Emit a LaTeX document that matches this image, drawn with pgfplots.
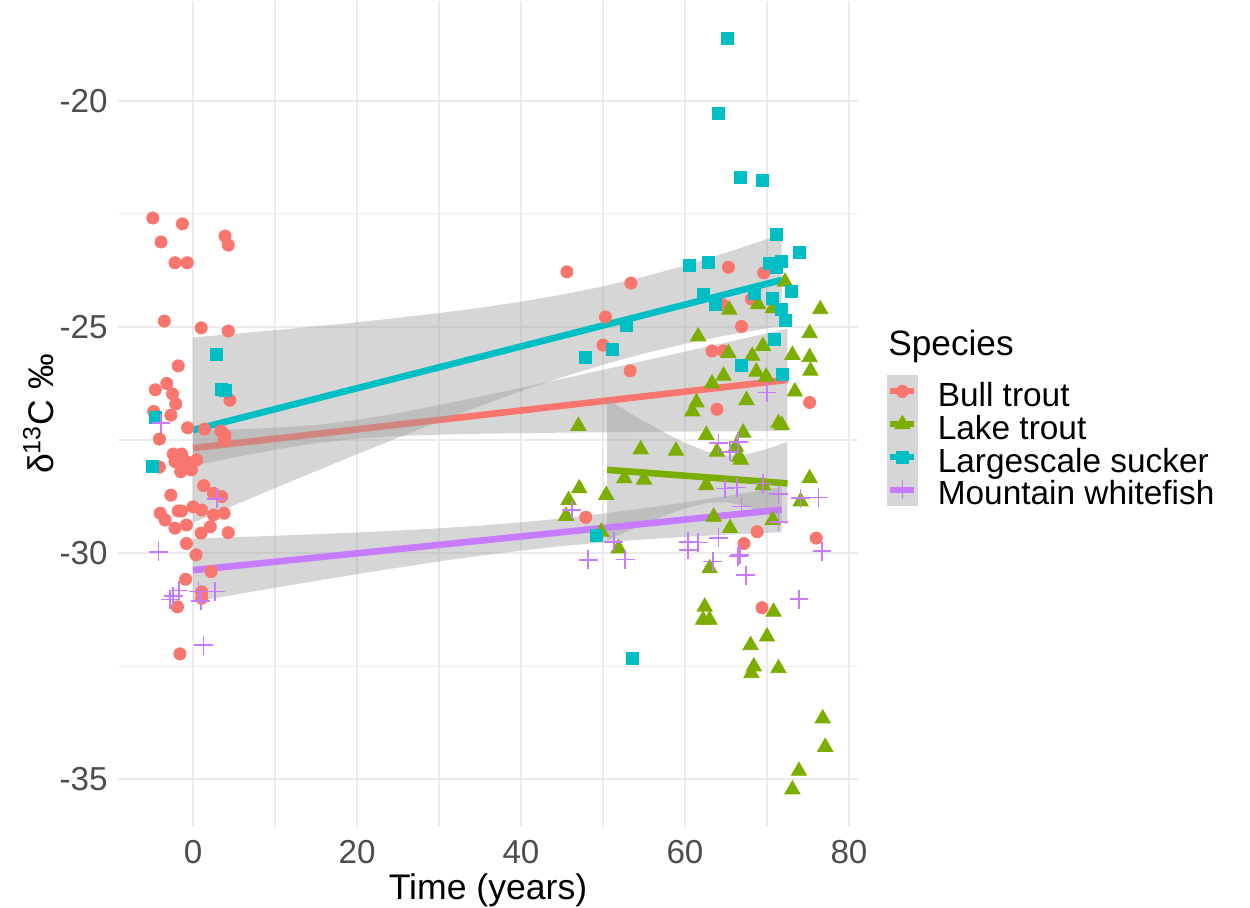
\documentclass[border=0pt]{standalone}
\usepackage{pgfplots}
\usepackage{pgfplotstable}
\pgfplotsset{compat=1.18}
\usepackage{fontspec}
\setmainfont{Liberation Sans}

\definecolor{bullc}{HTML}{F8766D}
\definecolor{lakec}{HTML}{7CAE00}
\definecolor{suckc}{HTML}{00BFC4}
\definecolor{whitc}{HTML}{C77CFF}
\definecolor{gridc}{HTML}{EBEBEB}
\definecolor{tickc}{HTML}{4D4D4D}
\definecolor{keybg}{HTML}{D6D6D6}

% stable isotope samples per species: time (years) and d13C
\pgfplotstableread{
t d13C
-4.9 -22.59
-1.3 -22.72
-3.9 -23.12
3.9 -22.99
4.3 -23.19
-2.2 -23.58
-0.7 -23.58
-3.5 -24.87
1.0 -25.02
4.3 -25.09
-1.8 -25.86
-3.2 -26.25
-4.6 -26.39
-2.5 -26.48
-2.1 -26.70
4.5 -26.62
-4.8 -26.87
-2.7 -26.95
-0.65 -27.23
-4.1 -27.48
-2.4 -27.81
-1.4 -27.81
-2.2 -27.98
-0.8 -27.98
0.45 -27.94
-4.1 -28.10
-1.5 -28.20
-0.2 -28.16
1.3 -28.51
-2.7 -28.72
2.5 -28.68
3.5 -28.75
0.0 -28.98
1.06 -29.05
-4.0 -29.12
-3.4 -29.27
-1.8 -29.07
-1.4 -29.07
2.5 -29.16
3.8 -29.12
-2.2 -29.45
-0.8 -29.38
0.98 -29.56
2.1 -29.42
4.3 -29.55
-0.8 -29.79
0.37 -30.04
2.2 -30.41
-0.9 -30.58
1.06 -30.86
1.06 -31.00
-1.9 -31.19
-1.6 -32.23
1.4 -27.26
3.9 -27.39
3.4 -27.30
3.8 -27.50
45.6 -23.78
53.4 -24.03
50.3 -24.78
50.0 -25.40
53.3 -25.97
47.9 -29.21
65.3 -23.68
69.6 -23.80
64.6 -24.51
68.1 -24.38
66.9 -24.99
63.3 -25.53
64.7 -25.53
63.9 -26.82
75.2 -26.67
68.8 -29.53
67.2 -29.79
76.0 -29.67
69.4 -31.21
}\bulltrout

\pgfplotstableread{
t d13C
72.2 -24.00
76.5 -24.61
65.4 -24.62
68.9 -24.50
70.7 -24.59
75.2 -25.14
61.6 -25.21
69.5 -25.42
65.3 -25.58
68.2 -25.64
73.1 -25.62
75.2 -25.67
75.3 -25.97
68.7 -25.99
64.7 -26.08
69.9 -26.10
63.3 -26.25
73.4 -26.43
67.5 -26.62
61.4 -26.67
60.9 -26.87
71.4 -27.13
71.8 -27.17
62.6 -27.39
67.1 -27.34
54.6 -27.71
58.9 -27.74
63.9 -27.76
66.2 -27.65
66.6 -27.87
66.8 -27.94
52.6 -28.35
55.0 -28.38
62.6 -28.50
69.5 -28.50
75.2 -28.35
50.4 -28.72
74.1 -28.86
63.5 -29.20
70.7 -29.27
65.5 -29.45
51.9 -29.90
63.0 -30.34
62.4 -31.19
62.2 -31.48
63.0 -31.48
70.8 -31.30
70.0 -31.85
68.0 -32.04
68.4 -32.51
68.1 -32.66
71.4 -32.55
76.8 -33.66
77.1 -34.29
73.9 -34.82
73.1 -35.23
47.0 -27.19
47.1 -28.57
45.8 -28.83
45.5 -29.18
49.8 -29.53
}\laketrout

\pgfplotstableread{
t d13C
-4.6 -27.01
-4.9 -28.08
2.8 -25.61
3.5 -26.38
4.0 -26.40
65.2 -18.61
64.1 -20.27
66.8 -21.70
69.5 -21.75
71.2 -22.96
73.9 -23.36
60.5 -23.63
62.8 -23.58
70.3 -23.59
71.8 -23.55
71.1 -23.68
73.0 -24.22
62.2 -24.27
68.5 -24.25
63.7 -24.49
70.6 -24.37
71.8 -24.61
72.3 -24.85
52.9 -24.96
51.1 -25.49
70.9 -25.27
66.9 -25.86
71.9 -26.05
47.8 -25.68
49.2 -29.62
53.6 -32.32
}\sucker

\pgfplotstableread{
t d13C
-4.2 -29.97
-1.7 -30.83
-2.4 -30.95
-2.8 -31.03
0.65 -30.85
2.7 -30.85
0.94 -31.06
1.26 -32.04
-3.9 -27.13
2.9 -28.80
64.1 -27.57
65.5 -27.76
66.5 -27.54
64.9 -28.57
66.3 -28.55
69.5 -28.46
71.4 -28.70
74.1 -28.79
76.3 -28.77
66.9 -28.97
71.4 -29.31
51.3 -29.75
52.7 -30.14
60.4 -29.75
61.6 -29.77
60.4 -29.93
64.1 -29.66
63.4 -30.19
66.7 -30.04
66.5 -30.07
67.4 -30.49
76.7 -29.96
73.9 -31.02
48.2 -30.15
46.2 -29.05
70.0 -26.45
}\whitefish

\pgfplotsset{
  keyimg/.style 2 args={legend image code/.code={
      \fill[keybg] (0pt,-4.5pt) rectangle (15pt,11.5pt);
      \draw[#1, line width=3pt] (1.5pt,3.5pt) -- (13.5pt,3.5pt);
      \draw[#1, #2] plot coordinates {(7.5pt,3.5pt)};
  }},
  band/.style={draw=none, fill=black!40, fill opacity=0.4, forget plot},
  fit/.style={line width=3.3pt, forget plot},
}

\begin{document}
\begin{tikzpicture}
\useasboundingbox (0,0) rectangle (625pt,453.5pt);
\begin{axis}[
  at={(59pt,40pt)}, anchor=south west,
  scale only axis, width=370pt, height=413pt,
  xmin=-9.15, xmax=81.1, ymin=-36.06, ymax=-17.79,
  axis line style={draw=none},
  tick style={draw=none},
  xtick={0,20,40,60,80}, xticklabels={0,20,40,60,80},
  minor xtick={10,30,50,70},
  ytick={-35,-30,-25,-20}, yticklabels={-35,-30,-25,-20},
  minor ytick={-32.5,-27.5,-22.5},
  grid=both,
  major grid style={draw=gridc, line width=1pt},
  minor grid style={draw=gridc, line width=0.55pt},
  ticklabel style={font=\fontsize{16.6pt}{16.6pt}\selectfont, text=tickc, inner sep=0pt},
  xticklabel style={anchor=north, yshift=-6.5pt},
  yticklabel style={anchor=east, xshift=-5pt},
  xlabel={Time (years)},
  xlabel style={at={(axis description cs:0.5,-0.0872)}, anchor=base, inner sep=0pt,
    font=\fontsize{17.8pt}{17.8pt}\selectfont},
  ylabel={δ\textsuperscript{13}C ‰},
  ylabel style={at={(axis description cs:-0.0878,0.5)}, anchor=base, inner sep=0pt,
    font=\fontsize{17.8pt}{17.8pt}\selectfont},
  legend style={at={(axis description cs:1.0392,0.5472)}, anchor=north west,
    draw=none, fill=none, inner sep=0pt, outer sep=0pt,
    row sep=0pt, column sep=10pt,
    font=\fontsize{16.7pt}{16.7pt}\selectfont,
    nodes={inner sep=0pt, outer sep=0pt, text height=8pt, text depth=0pt}},
  legend cell align=left,
]
% samples
\addplot[only marks, bullc, mark=*, mark size=3.05pt, forget plot] table[x=t,y=d13C] {\bulltrout};
\addplot[only marks, lakec, mark=triangle*, mark size=4.4pt, forget plot] table[x=t,y=d13C] {\laketrout};
\addplot[only marks, suckc, mark=square*, mark size=3.0pt, forget plot] table[x=t,y=d13C] {\sucker};
\addplot[only marks, whitc, mark=+, mark size=4.7pt, line width=0.85pt, forget plot] table[x=t,y=d13C] {\whitefish};

% linear fits with 95% confidence bands
\addplot[band] coordinates {
 (0,-27.286) (5,-27.265) (10,-27.230) (15,-27.167) (20,-27.057) (25,-26.905) (30,-26.728)
 (35,-26.540) (40,-26.345) (45,-26.148) (50,-25.948) (55,-25.747) (60,-25.546) (65,-25.344)
 (70,-25.141) (72.5,-25.040)
 (72.5,-27.300) (70,-27.303) (65,-27.308) (60,-27.314) (55,-27.321) (50,-27.330) (45,-27.338)
 (40,-27.349) (35,-27.362) (30,-27.382) (25,-27.413) (20,-27.469) (15,-27.570) (10,-27.714)
 (5,-27.887) (0,-28.074)} -- cycle;
\addplot[fit, bullc] coordinates {(0,-27.68) (72.5,-26.17)};

\addplot[band] coordinates {
 (50.5,-26.601) (52.5,-26.818) (55,-27.083) (57.5,-27.335) (60,-27.565) (62.5,-27.747)
 (65,-27.840) (67.5,-27.815) (70,-27.701) (72.5,-27.539)
 (72.5,-29.379) (70,-29.149) (67.5,-28.967) (65,-28.874) (62.5,-28.899) (60,-29.013)
 (57.5,-29.175) (55,-29.359) (52.5,-29.556) (50.5,-29.719)} -- cycle;
\addplot[fit, lakec] coordinates {(50.5,-28.16) (72.5,-28.46)};

\addplot[band] coordinates {
 (0,-25.231) (5,-25.153) (10,-25.072) (15,-24.986) (20,-24.896) (25,-24.799) (30,-24.693)
 (35,-24.576) (40,-24.441) (45,-24.285) (50,-24.103) (55,-23.888) (60,-23.641) (65,-23.360)
 (70,-23.054) (71.8,-22.938)
 (71.8,-24.982) (70,-25.032) (65,-25.188) (60,-25.371) (55,-25.586) (50,-25.833) (45,-26.113)
 (40,-26.419) (35,-26.748) (30,-27.093) (25,-27.449) (20,-27.814) (15,-28.186) (10,-28.564)
 (5,-28.945) (0,-29.329)} -- cycle;
\addplot[fit, suckc] coordinates {(0,-27.28) (71.8,-23.96)};

\addplot[band] coordinates {
 (0,-29.680) (5,-29.650) (10,-29.618) (15,-29.584) (20,-29.546) (25,-29.504) (30,-29.453)
 (35,-29.394) (40,-29.322) (45,-29.233) (50,-29.129) (55,-29.010) (60,-28.879) (65,-28.739)
 (71.8,-28.540)
 (71.8,-29.540) (65,-29.595) (60,-29.641) (55,-29.698) (50,-29.765) (45,-29.847) (40,-29.946)
 (35,-30.060) (30,-30.187) (25,-30.324) (20,-30.468) (15,-30.616) (10,-30.768) (5,-30.924)
 (0,-31.080)} -- cycle;
\addplot[fit, whitc] coordinates {(0,-30.38) (71.8,-29.04)};

% legend keys
\addlegendimage{keyimg={bullc}{mark=*,mark size=3.05pt}}
\addlegendentry{Bull trout}
\addlegendimage{keyimg={lakec}{mark=triangle*,mark size=4.4pt}}
\addlegendentry{Lake trout}
\addlegendimage{keyimg={suckc}{mark=square*,mark size=3.0pt}}
\addlegendentry{Largescale sucker}
\addlegendimage{keyimg={whitc}{mark=+,mark size=4.7pt,line width=0.85pt}}
\addlegendentry{Mountain whitefish}
\end{axis}
\node[anchor=base west, inner sep=0pt, font=\fontsize{17.6pt}{17.6pt}\selectfont] at (444pt,275.5pt) {Species};
\end{tikzpicture}
\end{document}
